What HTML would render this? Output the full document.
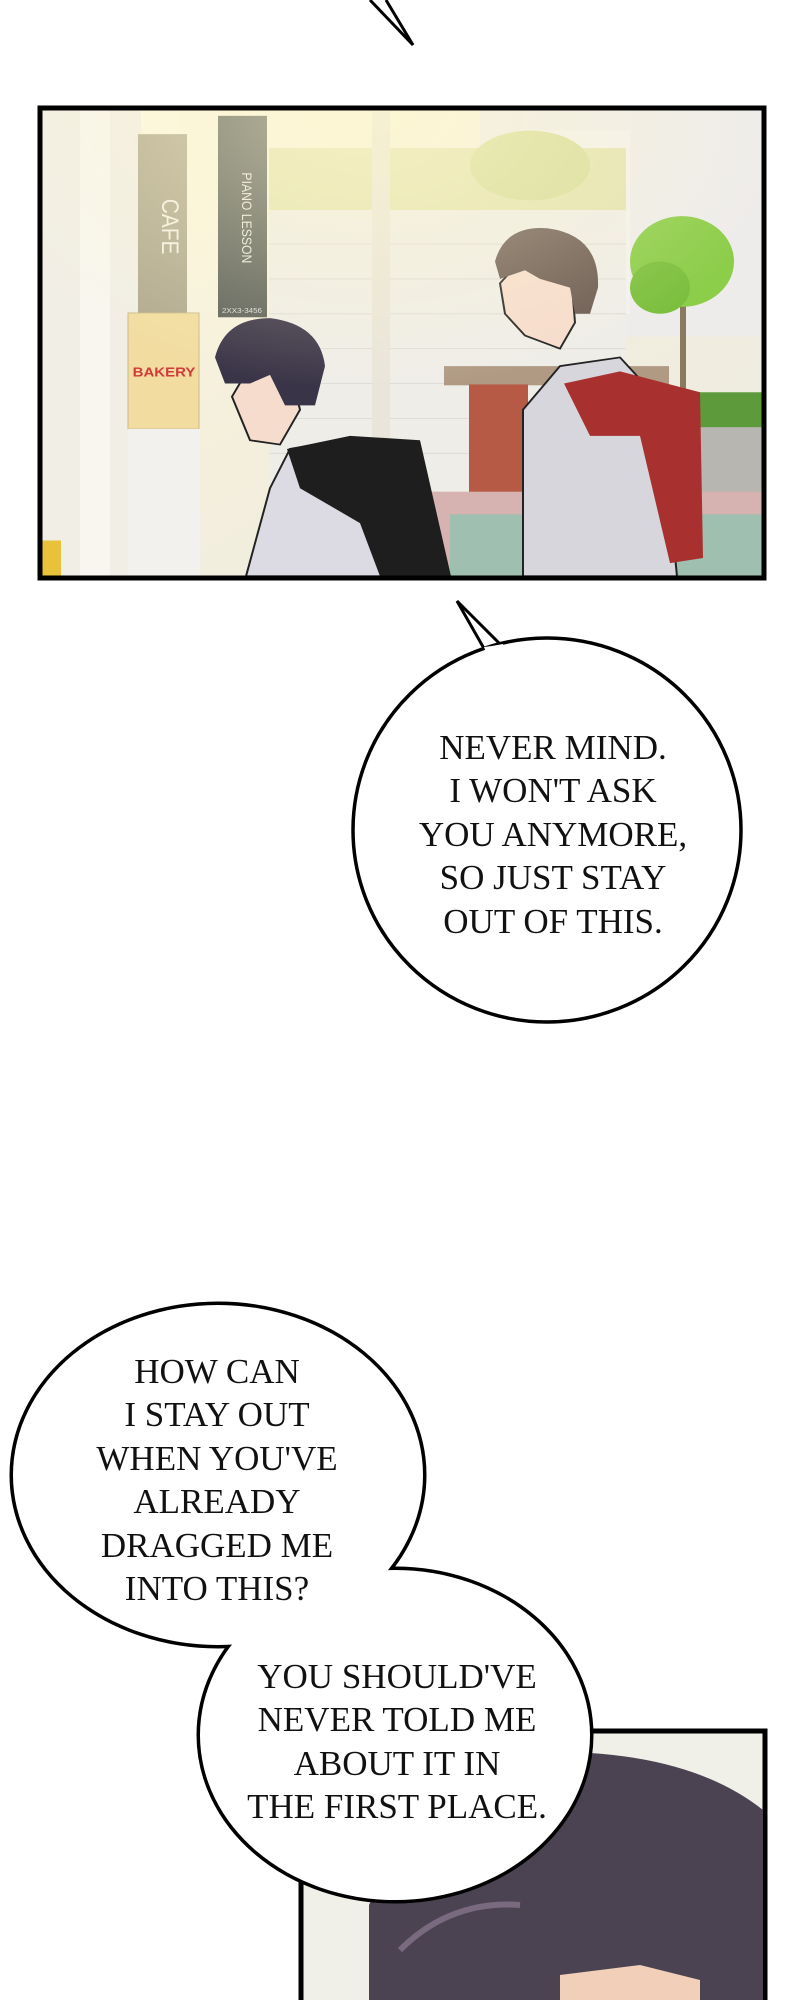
<!DOCTYPE html>
<html><head><meta charset="utf-8"><style>
html,body{margin:0;padding:0;background:#fff}
body{width:800px;height:2000px;position:relative;overflow:hidden}
svg{position:absolute;left:0;top:0}
.t{position:absolute;text-align:center;font-family:"Liberation Serif",serif;color:#111;white-space:nowrap;font-size:35px;line-height:43.4px;width:400px}
.t1{left:353px;top:726px}
.t2{left:17px;top:1350px}
.t3{left:197px;top:1655px}
</style></head><body>
<svg width="800" height="2000" viewBox="0 0 800 2000">
<defs>
<linearGradient id="sky" x1="0" y1="0" x2="1" y2="1">
<stop offset="0" stop-color="#fdf8e2"/><stop offset="0.5" stop-color="#f4efdc"/><stop offset="1" stop-color="#ebe9e4"/></linearGradient>
<radialGradient id="glow" cx="0.45" cy="0" r="0.6"><stop offset="0" stop-color="#fff7cc" stop-opacity="0.9"/><stop offset="1" stop-color="#fff7cc" stop-opacity="0"/></radialGradient>
</defs>
<path d="M370 0 L413 45 L386 0" fill="none" stroke="#000" stroke-width="3"/>
<g transform="translate(0,108) scale(1,0.872) translate(0,-124)">
<rect x="41" y="124" width="724" height="539" fill="url(#sky)"/>
<rect x="480" y="126" width="283" height="260" fill="#eeeceb"/>
<rect x="520" y="150" width="110" height="210" fill="#f3f1ee"/>
<rect x="269" y="170" width="357" height="72" fill="#e4e3b0"/>
<ellipse cx="530" cy="190" rx="60" ry="40" fill="#d6dc9a"/>
<rect x="269" y="241" width="357" height="323" fill="#efede8"/>
<g stroke="#dcd9d2" stroke-width="1">
<line x1="269" y1="280" x2="626" y2="280"/><line x1="269" y1="320" x2="626" y2="320"/><line x1="269" y1="360" x2="626" y2="360"/><line x1="269" y1="400" x2="626" y2="400"/><line x1="269" y1="440" x2="626" y2="440"/><line x1="269" y1="480" x2="626" y2="480"/><line x1="269" y1="520" x2="626" y2="520"/></g>
<rect x="41" y="126" width="100" height="535" fill="#f1eee6"/>
<rect x="80" y="126" width="30" height="535" fill="#f8f6ef"/>
<rect x="138" y="154" width="49" height="208" fill="#b1a98f"/>
<text x="162" y="260" font-family="Liberation Sans" font-size="24" fill="#f4f0e4" text-anchor="middle" transform="rotate(90 162 260)">CAFE</text>
<rect x="218" y="133" width="49" height="231" fill="#5b5f59"/>
<text x="242" y="250" font-family="Liberation Sans" font-size="14" fill="#e8e8e0" text-anchor="middle" transform="rotate(90 242 250)">PIANO LESSON</text>
<text x="242" y="359" font-family="Liberation Sans" font-size="8" fill="#ddd" text-anchor="middle">2XX3-3456</text>
<rect x="128" y="359" width="71" height="133" fill="#f2dca0" stroke="#c9b98a"/>
<text x="164" y="432" font-family="Liberation Sans" font-size="15" font-weight="bold" fill="#d03a3a" text-anchor="middle">BAKERY</text>
<rect x="128" y="492" width="72" height="169" fill="#f2f1ee"/>
<rect x="372" y="128" width="18" height="375" fill="#e9e5da"/>
<rect x="444" y="420" width="225" height="22" fill="#b09a84"/>
<rect x="469" y="441" width="59" height="149" fill="#b65a45"/>
<rect x="693" y="482" width="70" height="103" fill="#b8b6b0"/>
<rect x="660" y="450" width="103" height="40" fill="#5c9a3c"/>
<rect x="680" y="330" width="6" height="120" fill="#8a7a60"/>
<circle cx="682" cy="300" r="52" fill="#8ccd4a"/>
<circle cx="660" cy="330" r="30" fill="#7cbf3e"/>
<rect x="400" y="564" width="363" height="97" fill="#d6b3b0"/>
<rect x="450" y="590" width="313" height="71" fill="#9fc0b0"/>
<rect x="41" y="620" width="20" height="41" fill="#e8c23a"/>
<path d="M246 661 L270 560 L290 515 L340 505 L400 540 L410 661 Z" fill="#dcdae2" stroke="#222" stroke-width="2"/>
<path d="M287 515 L350 500 L420 505 L451 661 L380 661 L360 600 L300 560 Z" fill="#1e1e1e"/>
<path d="M232 455 L250 420 L290 425 L300 470 L280 510 L250 505 Z" fill="#f6dccd" stroke="#222" stroke-width="2"/>
<path d="M215 410 Q225 365 270 365 Q320 372 325 420 L315 465 L285 465 L270 430 L250 440 L225 440 Z" fill="#3a3448"/>
<path d="M523 661 L523 470 L560 420 L620 410 L660 460 L677 661 Z" fill="#d8d6dd" stroke="#222" stroke-width="2"/>
<path d="M564 440 L620 426 L700 450 L703 640 L670 646 L640 500 L590 500 Z" fill="#a8302e"/>
<path d="M500 325 L520 300 L570 300 L575 370 L560 400 L525 385 L505 360 Z" fill="#f6dccd" stroke="#222" stroke-width="2"/>
<path d="M495 300 Q505 258 548 262 Q600 270 598 330 L590 360 L575 360 L570 330 L540 320 L525 310 L500 320 Z" fill="#6b5a52"/>
<rect x="41" y="124" width="724" height="539" fill="url(#glow)" opacity="0.7"/>
</g>
<rect x="40" y="108" width="724" height="470" fill="none" stroke="#000" stroke-width="5"/>
<!-- bubble 1 -->
<path d="M486 652 L457 601 L502 646" fill="#fff" stroke="#000" stroke-width="3"/>
<ellipse cx="547" cy="830" rx="194" ry="192" fill="#fff" stroke="#000" stroke-width="3.5"/>
<path d="M487 655 L484 647 L492 646 L503 644 L505 650 Z" fill="#fff"/>
<!-- panel 2 -->
<rect x="301" y="1731" width="464" height="280" fill="#f0efe8" stroke="#000" stroke-width="5"/>
<path d="M369 2000 L369 1905 Q420 1790 590 1753 Q700 1760 763 1810 L763 2000 Z" fill="#4b4352"/>
<path d="M560 1975 L640 1965 L700 1980 L700 2000 L560 2000 Z" fill="#f1cfb8"/>
<path d="M400 1950 Q450 1900 520 1905" stroke="#7a6a80" stroke-width="6" fill="none"/>
<!-- bubbles 2 + 3 union -->
<g fill="none" stroke="#000" stroke-width="7">
<ellipse cx="218" cy="1475" rx="205" ry="170"/>
<ellipse cx="395" cy="1735" rx="195" ry="165"/>
</g>
<g fill="#fff">
<ellipse cx="218" cy="1475" rx="205" ry="170"/>
<ellipse cx="395" cy="1735" rx="195" ry="165"/>
</g>
</svg>
<div class="t t1">NEVER MIND.<br>I WON'T ASK<br>YOU ANYMORE,<br>SO JUST STAY<br>OUT OF THIS.</div>
<div class="t t2">HOW CAN<br>I STAY OUT<br>WHEN YOU'VE<br>ALREADY<br>DRAGGED ME<br>INTO THIS?</div>
<div class="t t3">YOU SHOULD'VE<br>NEVER TOLD ME<br>ABOUT IT IN<br>THE FIRST PLACE.</div>
</body></html>
